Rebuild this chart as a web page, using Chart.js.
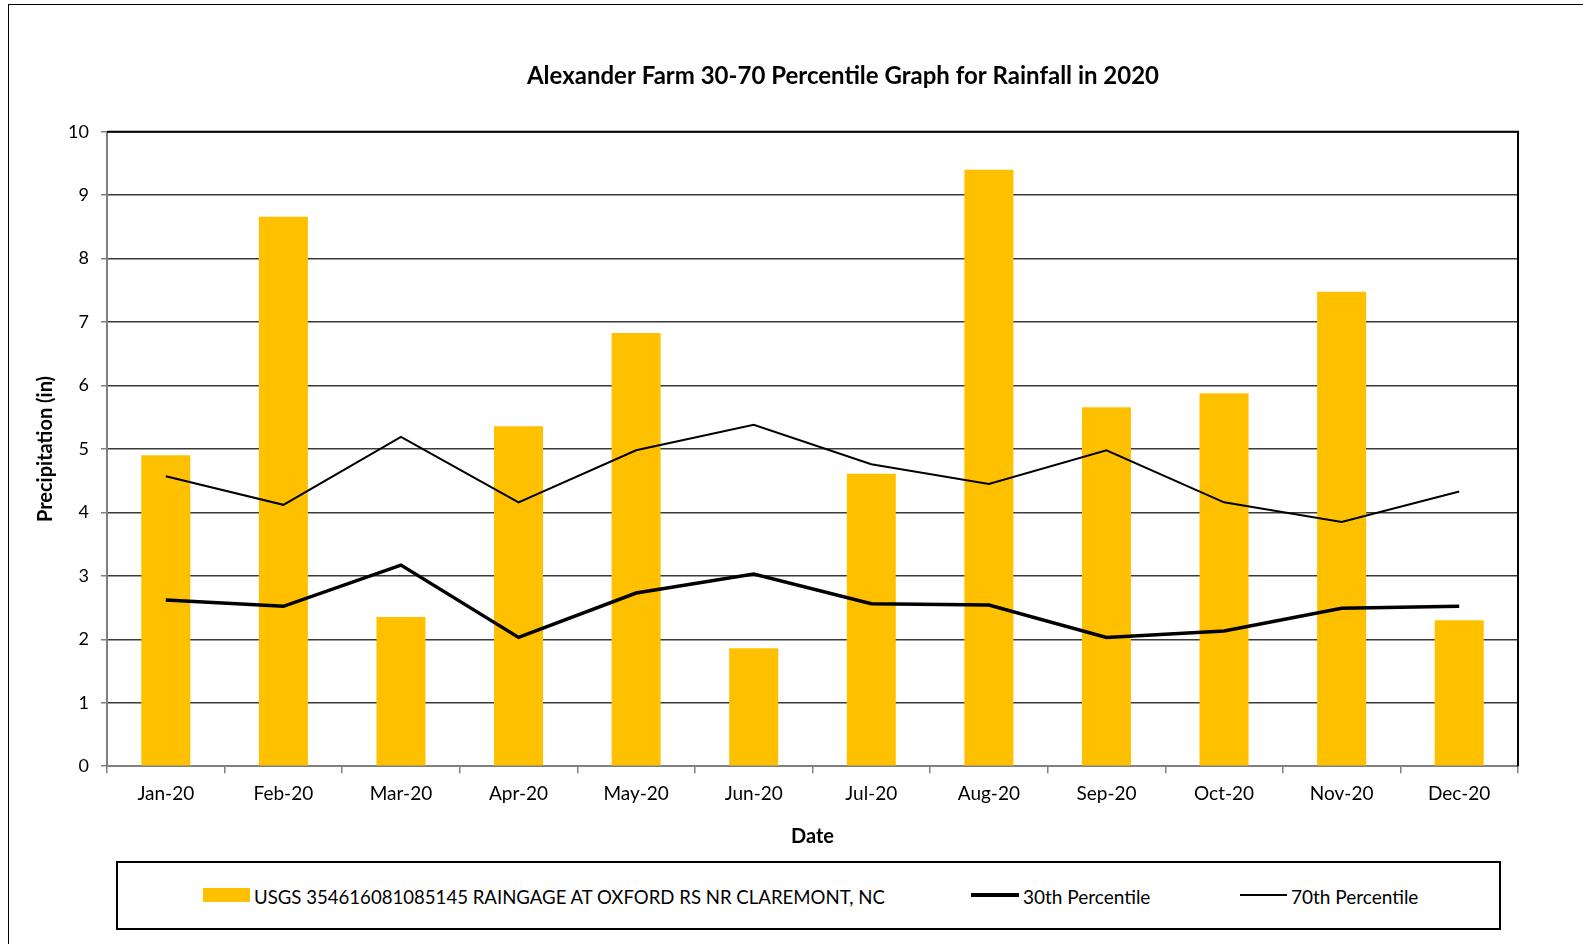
<!DOCTYPE html>
<html>
<head>
<meta charset="utf-8">
<script src="https://cdn.jsdelivr.net/npm/chart.js@4.4.1/dist/chart.umd.min.js"></script>
<style>
  body { margin: 0; background: #fff; overflow: hidden; font-family: Lato, sans-serif; }
  #frame { position: absolute; left: 8px; top: 4px; width: 1700px; height: 1000px; border: 1.5px solid #000; }
  #rainChart { position: absolute; left: 0; top: 0; }
  #legendBox { position: absolute; left: 116px; top: 861px; width: 1385px; height: 69px; border: 2px solid #000; box-sizing: border-box; }
  .lg-swatch { position: absolute; }
  .lg-text { position: absolute; top: 22px; font-size: 19px; line-height: 24px; color: #000; white-space: nowrap; }
</style>
</head>
<body>
<div id="frame"></div>
<canvas id="rainChart" width="1686" height="857"></canvas>
<div id="legendBox"></div>
<script>
// monthly data
var months = ["Jan-20", "Feb-20", "Mar-20", "Apr-20", "May-20", "Jun-20", "Jul-20", "Aug-20", "Sep-20", "Oct-20", "Nov-20", "Dec-20"];
var rainfall = [4.90, 8.66, 2.35, 5.36, 6.83, 1.86, 4.61, 9.40, 5.66, 5.88, 7.48, 2.30];
var pct30 = [2.62, 2.52, 3.17, 2.03, 2.73, 3.03, 2.56, 2.54, 2.03, 2.13, 2.49, 2.52];
var pct70 = [4.57, 4.12, 5.19, 4.16, 4.98, 5.38, 4.76, 4.45, 4.98, 4.16, 3.85, 4.33];
var yTicks = [0, 1, 2, 3, 4, 5, 6, 7, 8, 9, 10];

var rainLabel = "USGS 354616081085145 RAINGAGE AT OXFORD RS NR CLAREMONT, NC";
var gold = "#FFC000";

// black frame on top and right side of the plot
var plotBorder = {
    id: "plotBorder",
    afterDatasetsDraw: function(chart) {
        var a = chart.chartArea;
        var ctx = chart.ctx;
        ctx.save();
        ctx.strokeStyle = "#000";
        ctx.lineWidth = 2;
        ctx.beginPath();
        ctx.moveTo(a.left, a.top);
        ctx.lineTo(a.right, a.top);
        ctx.lineTo(a.right, a.bottom);
        ctx.stroke();
        ctx.restore();
    }
};

var ctx = document.getElementById("rainChart").getContext("2d");
new Chart(ctx, {
    type: "bar",
    data: {
        labels: months,
        datasets: [{
            type: "line",
            label: "30th Percentile",
            data: pct30,
            borderColor: "#000",
            borderWidth: 3.5,
            pointRadius: 0,
            tension: 0,
            order: 0
        }, {
            type: "line",
            label: "70th Percentile",
            data: pct70,
            borderColor: "#000",
            borderWidth: 2,
            pointRadius: 0,
            tension: 0,
            order: 0
        }, {
            label: rainLabel,
            data: rainfall,
            backgroundColor: gold,
            barPercentage: 0.417,
            categoryPercentage: 1,
            order: 1
        }]
    },
    options: {
        responsive: false,
        animation: false,
        layout: { padding: { left: 0, right: 0, top: 0, bottom: 4 } },
        plugins: {
            legend: { display: false },
            tooltip: { enabled: false },
            title: {
                display: true,
                text: "Alexander Farm 30-70 Percentile Graph for Rainfall in 2020",
                color: "#000",
                font: { family: "Lato", size: 24, weight: "bold" },
                padding: { top: 62, bottom: 41 }
            }
        },
        scales: {
            x: {
                grid: { offset: true, drawOnChartArea: false, drawTicks: true, tickLength: 7, color: "#808080", lineWidth: 1.5 },
                border: { color: "#808080", width: 2 },
                ticks: { color: "#000", font: { family: "Lato", size: 19 }, padding: 9, maxRotation: 0 },
                title: { display: true, text: "Date", color: "#000", font: { family: "Lato", size: 20, weight: "bold" }, padding: { top: 11, bottom: 4 } }
            },
            y: {
                min: 0,
                max: 10,
                afterBuildTicks: function(scale) {
                    scale.ticks = yTicks.map(function(v) { return { value: v }; });
                },
                afterFit: function(scale) {
                    scale.width = 107;
                },
                grid: { color: "#3a3a3a", lineWidth: 1.5, tickLength: 6, tickColor: "#808080" },
                border: { color: "#808080", width: 2 },
                ticks: { color: "#000", font: { family: "Lato", size: 18 }, padding: 12 },
                title: { display: true, text: "Precipitation (in)", color: "#000", font: { family: "Lato", size: 20, weight: "bold" }, padding: { top: 34, bottom: 4 } }
            },
            // empty right axis, only keeps room on the right so the title stays centred on the canvas
            yRight: {
                position: "right",
                grid: { display: false },
                ticks: { display: false },
                border: { display: false },
                afterFit: function(scale) {
                    scale.width = 168;
                }
            }
        }
    },
    plugins: [plotBorder]
});

// legend below the plot, in its own box
var legendItems = [
    { text: rainLabel, kind: "box", x: 85, w: 47, size: 18.6 },
    { text: "30th Percentile", kind: "line", x: 853, w: 48, lw: 3.5, size: 19 },
    { text: "70th Percentile", kind: "line", x: 1122, w: 47, lw: 2, size: 19 }
];
var box = document.getElementById("legendBox");
legendItems.forEach(function(item) {
    var sw = document.createElement("div");
    sw.className = "lg-swatch";
    sw.style.left = item.x + "px";
    sw.style.width = item.w + "px";
    if (item.kind == "box") {
        sw.style.top = "25px";
        sw.style.height = "14px";
        sw.style.background = gold;
    } else {
        sw.style.top = (32 - item.lw / 2) + "px";
        sw.style.height = item.lw + "px";
        sw.style.background = "#000";
    }
    box.appendChild(sw);
    var t = document.createElement("span");
    t.className = "lg-text";
    t.style.left = (item.x + item.w + 4) + "px";
    t.style.fontSize = item.size + "px";
    t.textContent = item.text;
    box.appendChild(t);
});
</script>
</body>
</html>
